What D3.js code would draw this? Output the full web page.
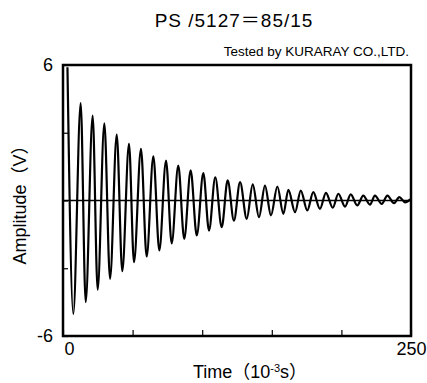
<!DOCTYPE html>
<html>
<head>
<meta charset="utf-8">
<script src="https://cdn.jsdelivr.net/npm/d3@7"></script>
<style>
  body { margin: 0; background: #fff; }
  text { font-family: "Liberation Sans", Arial, "Noto Sans CJK JP", sans-serif; fill: #000; }
</style>
</head>
<body>
<div id="chart"></div>
<script>

// Damped oscillation: start point then alternating troughs / peaks
const times = [3.2, 7.4, 12.7, 16.3, 21.3, 24.9, 29.7, 33.8, 38.6, 42.6, 47.4, 51.0, 56.0, 60.1,
    64.9, 69.2, 74.0, 78.1, 82.8, 87.1, 91.7, 96.1, 100.8, 104.9, 109.4, 114.0, 118.3, 122.8,
    127.2, 132.0, 136.3, 140.8, 145.1, 149.4, 154.0, 158.3, 161.9, 166.7, 170.8, 175.5, 179.8,
    184.6, 188.9, 193.8, 197.8, 202.6, 206.7, 211.4, 215.7, 220.5, 224.1, 229.0, 233.0, 237.8,
    241.6, 245.7, 249.5];
const amplitudes = [5.9, -5.02, 4.31, -4.50, 3.76, -3.95, 3.42, -3.47, 2.92, -3.13, 2.51, -2.73,
    2.29, -2.48, 1.95, -2.21, 1.77, -1.90, 1.55, -1.70, 1.33, -1.55, 1.21, -1.33, 1.03, -1.18,
    0.89, -0.89, 0.81, -0.81, 0.71, -0.74, 0.66, -0.66, 0.62, -0.59, 0.47, -0.52, 0.44, -0.44,
    0.37, -0.37, 0.34, -0.32, 0.30, -0.27, 0.27, -0.22, 0.22, -0.18, 0.22, -0.15, 0.22, -0.12,
    0.15, -0.08, 0.05];

const xTicks = [0, 50, 100, 150, 200, 250];
const yTicks = [-6, -3, 0, 3, 6];

const title = "PS /5127＝85/15";
const credit = "Tested by KURARAY CO.,LTD.";


function drawChart(container) {

    const width = 427;
    const height = 383;
    const margin = {top: 65, right: 16, bottom: 47, left: 63};

    const svg = d3.select(container).append("svg")
        .attr("width", width)
        .attr("height", height);

    const x = d3.scaleLinear().domain([0, 250]).range([margin.left, width - margin.right]);
    const y = d3.scaleLinear().domain([-6, 6]).range([height - margin.bottom, margin.top]);

    const data = times.map((t, i) => ({t: t, v: amplitudes[i]}));

    // zero line
    svg.append("line")
        .attr("x1", x(0)).attr("x2", x(250))
        .attr("y1", y(0)).attr("y2", y(0))
        .attr("stroke", "#000")
        .attr("stroke-width", 1.5);

    // the signal
    const line = d3.line()
        .x((d) => x(d.t))
        .y((d) => y(d.v))
        .curve(d3.curveMonotoneX);

    svg.append("path")
        .datum(data)
        .attr("d", line)
        .attr("fill", "none")
        .attr("stroke", "#000")
        .attr("stroke-width", 2.2)
        .attr("stroke-linejoin", "round");

    // axes, ticks pointing in, only ends labelled
    const xAxis = d3.axisBottom(x)
        .tickValues(xTicks)
        .tickSizeInner(-6)
        .tickSizeOuter(0)
        .tickFormat((d) => (d === 0 || d === 250) ? d : "");

    const gx = svg.append("g")
        .attr("transform", "translate(0," + y(-6) + ")")
        .call(xAxis);
    gx.select(".domain").remove();
    gx.selectAll(".tick line").attr("stroke-width", 1.2);
    gx.selectAll(".tick text")
        .attr("y", 6)
        .attr("dx", (d) => d === 0 ? 6 : 0)
        .attr("dy", "0.71em")
        .style("font-size", "18px");

    const yAxis = d3.axisLeft(y)
        .tickValues(yTicks)
        .tickSizeInner(-5)
        .tickSizeOuter(0)
        .tickFormat((d) => (d === 6 || d === -6) ? d : "");

    const gy = svg.append("g")
        .attr("transform", "translate(" + x(0) + ",0)")
        .call(yAxis);
    gy.select(".domain").remove();
    gy.selectAll(".tick line").attr("stroke-width", 1.2);
    gy.selectAll(".tick text")
        .attr("x", -10)
        .style("font-size", "18px");

    // frame
    svg.append("rect")
        .attr("x", x(0))
        .attr("y", y(6))
        .attr("width", x(250) - x(0))
        .attr("height", y(-6) - y(6))
        .attr("fill", "none")
        .attr("stroke", "#000")
        .attr("stroke-width", 2.5);

    // titles
    svg.append("text")
        .attr("x", 234)
        .attr("y", 27)
        .attr("text-anchor", "middle")
        .style("font-size", "19px")
        .style("letter-spacing", "1px")
        .text(title);

    svg.append("text")
        .attr("x", x(250) - 2)
        .attr("y", 56)
        .attr("text-anchor", "end")
        .style("font-size", "13.5px")
        .text(credit);

    const xl = svg.append("text")
        .attr("x", 250)
        .attr("y", 378)
        .attr("text-anchor", "middle")
        .style("font-size", "18px");
    xl.append("tspan").text("Time（10");
    xl.append("tspan").attr("dy", -6).style("font-size", "11px").text("-3");
    xl.append("tspan").attr("dy", 6).text("s）");

    svg.append("text")
        .attr("transform", "translate(26," + y(0) + ") rotate(-90)")
        .attr("text-anchor", "middle")
        .style("font-size", "18px")
        .text("Amplitude（V）");

    return svg.node();
}

drawChart(document.getElementById("chart"));
</script>
</body>
</html>
